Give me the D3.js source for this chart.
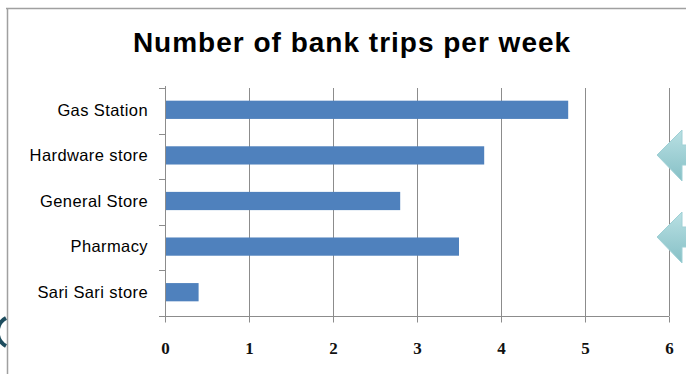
<!DOCTYPE html>
<html>
<head>
<meta charset="utf-8">
<script src="https://cdn.jsdelivr.net/npm/d3@7/dist/d3.min.js"></script>
<style>
  html, body { margin: 0; padding: 0; background: #fff; }
  svg { display: block; font-family: "Liberation Sans", sans-serif; }
</style>
</head>
<body>
<svg id="chart" width="686" height="374"></svg>
<script>
const titleText = "Number of bank trips per week";
const categories = ["Gas Station", "Hardware store", "General Store", "Pharmacy", "Sari Sari store"];
const values = [4.8, 3.8, 2.8, 3.5, 0.4];
const xTicks = [0, 1, 2, 3, 4, 5, 6];

(function () {
const svg = d3.select("#chart");
const W = 686, H = 374;

// outer slide frame
svg.append("line").attr("x1", 6).attr("x2", W).attr("y1", 8.5).attr("y2", 8.5)
  .attr("stroke", "#a0a0a0").attr("stroke-width", 1.5);
svg.append("line").attr("x1", 7.5).attr("x2", 7.5).attr("y1", 8).attr("y2", H)
  .attr("stroke", "#a0a0a0").attr("stroke-width", 1.5);

// decorative left arc
svg.append("path")
  .attr("d", "M 6 318 A 16 16 0 0 0 6 346")
  .attr("fill", "none").attr("stroke", "#1e4d5e").attr("stroke-width", 4);

const pL = 165, pR = 669, pT = 88, pB = 316;

const x = d3.scaleLinear().domain([0, 6]).range([pL, pR]);
const y = d3.scaleBand().domain(categories).range([pT, pB]).paddingInner(0.6).paddingOuter(0.3);

// gridlines
svg.append("g").selectAll("line").data(xTicks.filter(d => d > 0)).join("line")
  .attr("x1", d => Math.round(x(d)) + 0.5).attr("x2", d => Math.round(x(d)) + 0.5)
  .attr("y1", pT).attr("y2", pB)
  .attr("stroke", "#8c8c8c").attr("stroke-width", 1);

// bars
svg.append("g").selectAll("rect").data(categories).join("rect")
  .attr("x", x(0)).attr("y", d => y(d) - 1)
  .attr("width", (d, i) => x(values[i]) - x(0))
  .attr("height", y.bandwidth())
  .attr("fill", "#4f81bd");

// x axis
const xAxis = d3.axisBottom(x).tickValues(xTicks).tickSize(6).tickPadding(19).tickFormat(d3.format("d"));
const gx = svg.append("g").attr("transform", `translate(0,${pB + 0.5})`).call(xAxis);
gx.attr("font-family", null).attr("font-size", null);
gx.select(".domain").attr("stroke", "#8c8c8c").attr("d", `M${pL - 6},0H${pR}`);
gx.selectAll(".tick line").attr("stroke", "#8c8c8c");
gx.selectAll(".tick text")
  .style("font-family", "'Liberation Serif', serif").style("font-size", "17px")
  .style("font-weight", "bold").attr("fill", "#111");

// y axis: ticks at category boundaries
const boundaries = d3.range(categories.length + 1).map(i => pT + i * (pB - pT) / categories.length);
const gy = svg.append("g");
gy.append("line").attr("x1", pL + 0.5).attr("x2", pL + 0.5).attr("y1", pT - 2).attr("y2", pB + 6)
  .attr("stroke", "#8c8c8c");
gy.selectAll("line.tk").data(boundaries).join("line").attr("class", "tk")
  .attr("x1", pL - 6).attr("x2", pL).attr("y1", d => Math.round(d) + 0.5).attr("y2", d => Math.round(d) + 0.5)
  .attr("stroke", "#8c8c8c");
gy.selectAll("text").data(categories).join("text")
  .attr("x", 148).attr("y", d => y(d) + y.bandwidth() / 2 - 1)
  .attr("dy", "0.35em").attr("text-anchor", "end")
  .attr("font-size", 16.5).attr("letter-spacing", 0.4).attr("fill", "#000")
  .text(d => d);

// title
svg.append("text").attr("x", 352).attr("y", 52).attr("text-anchor", "middle")
  .attr("font-size", 28).attr("font-weight", "bold").attr("letter-spacing", 1).attr("fill", "#000")
  .text(titleText);

// decorative arrows
const defs = svg.append("defs");
const grad = defs.append("linearGradient").attr("id", "ag").attr("x1", 0).attr("y1", 0).attr("x2", 0).attr("y2", 1);
grad.append("stop").attr("offset", "0%").attr("stop-color", "#b9e0e3");
grad.append("stop").attr("offset", "100%").attr("stop-color", "#86c0c6");
[155, 237].forEach(cy => {
  svg.append("path")
    .attr("d", `M657,${cy} L682,${cy - 25} L682,${cy - 10} L690,${cy - 10} L690,${cy + 10} L682,${cy + 10} L682,${cy + 26} Z`)
    .attr("fill", "url(#ag)").attr("stroke", "#9fd0d5").attr("stroke-width", 1);
});
})();
</script>
</body>
</html>
